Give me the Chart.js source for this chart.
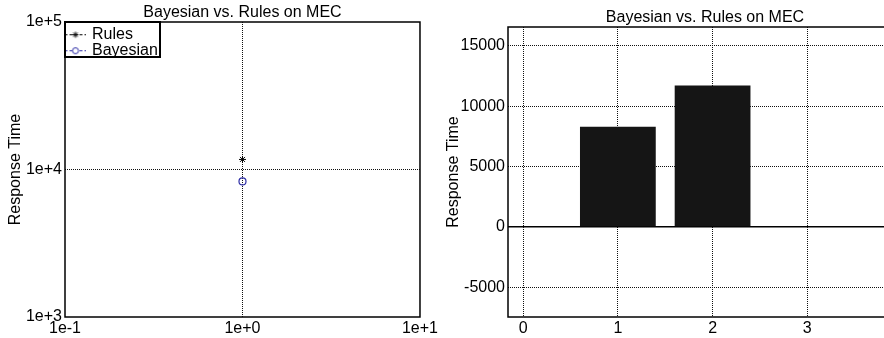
<!DOCTYPE html>
<html>
<head>
<meta charset="utf-8">
<script src="https://cdn.jsdelivr.net/npm/chart.js@4.4.1/dist/chart.umd.min.js"></script>
<style>
  html, body { margin: 0; padding: 0; background: #fff; overflow: hidden; }
  #wrap { position: relative; width: 884px; height: 338px; overflow: hidden; }
  canvas { position: absolute; top: 0; }
  #left { left: 0; }
  #right { left: 440px; }
</style>
</head>
<body>
<div id="wrap">
  <canvas id="left" width="440" height="338"></canvas>
  <canvas id="right" width="462" height="338"></canvas>
</div>
<script>
const chartTitle = 'Bayesian vs. Rules on MEC';
const yTitle = 'Response Time';

// left: log-log plot
const seriesNames = ['Rules', 'Bayesian'];
const rulesX = [1];
const rulesY = [11700];
const bayesX = [1];
const bayesY = [8300];
const logXTicks = [0.1, 1, 10];
const logYTicks = [1000, 10000, 100000];

// right: bars
const barX = [1, 2];
const barY = [8300, 11700];
const barXTicks = [0, 1, 2, 3];
const barYTicks = [-5000, 0, 5000, 10000, 15000];

Chart.defaults.font.family = '"Liberation Sans", Arial, Helvetica, sans-serif';
Chart.defaults.font.size = 16;
Chart.defaults.color = '#000';

const DOTS = [1, 1];
const GRID = '#111';

// box round the plot area, and round the legend
const frame = {
  id: 'frame',
  afterLayout(chart) {
    // the chartArea legend comes back with top = 0, pin it to the plot corner
    const lg = chart.legend;
    if (!lg || !lg.options.display) return;
    const dy = chart.chartArea.top - lg.top;
    lg.top += dy;
    lg.bottom += dy;
    (lg.legendHitBoxes || []).forEach(h => { h.top += dy; });
  },
  afterDraw(chart) {
    const {ctx, chartArea: a} = chart;
    ctx.save();
    ctx.setLineDash([]);
    ctx.strokeStyle = '#000';
    ctx.lineWidth = 1.5;
    ctx.strokeRect(a.left, a.top, a.right - a.left, a.bottom - a.top);
    const lg = chart.legend;
    if (lg && lg.options.display) {
      ctx.lineWidth = 2;
      ctx.strokeRect(lg.left, lg.top, lg.width, lg.height);
    }
    ctx.restore();
  }
};

function legendIcon(style, color) {
  const c = document.createElement('canvas');
  c.width = 22;
  c.height = 10;
  const g = c.getContext('2d');
  g.strokeStyle = color;
  g.lineWidth = 1;
  g.setLineDash([3, 2]);
  g.beginPath();
  g.moveTo(1, 5.5);
  g.lineTo(22, 5.5);
  g.stroke();
  g.setLineDash([]);
  g.fillStyle = '#fff';
  Chart.helpers.drawPoint(g, {pointStyle: style, radius: 3, borderWidth: 1, rotation: 0}, 12, 5.5);
  return c;
}

const hideEdges = c => (c.tick && (c.tick.value <= c.scale.min || c.tick.value >= c.scale.max)) ? 'rgba(0,0,0,0)' : GRID;
const expLabel = v => Number(v).toExponential();

new Chart(document.getElementById('left'), {
  type: 'scatter',
  data: {
    datasets: [
      {
        label: seriesNames[0],
        data: rulesX.map((x, i) => ({x, y: rulesY[i]})),
        pointStyle: 'star',
        pointRadius: 3.5,
        pointBorderWidth: 1,
        pointBorderColor: '#000',
        pointBackgroundColor: '#000',
        icon: legendIcon('star', '#000')
      },
      {
        label: seriesNames[1],
        data: bayesX.map((x, i) => ({x, y: bayesY[i]})),
        pointStyle: 'circle',
        pointRadius: 3.5,
        pointBorderWidth: 1.2,
        pointBorderColor: '#2e2ea6',
        pointBackgroundColor: 'rgba(255,255,255,0)',
        icon: legendIcon('circle', '#2e2ea6')
      }
    ]
  },
  options: {
    responsive: false,
    animation: false,
    layout: {padding: {left: 0, right: 16, top: 0, bottom: 0}},
    plugins: {
      title: {
        display: true,
        text: chartTitle,
        fullSize: false,
        color: '#000',
        font: {size: 16, weight: 'normal', lineHeight: 1},
        padding: {top: 4.8, bottom: 1.2}
      },
      legend: {
        position: 'chartArea',
        align: 'start',
        maxWidth: 95,
        maxHeight: 35,
        title: {display: true, text: '', font: {size: 3, lineHeight: 1}, padding: {top: 1.2, bottom: 0}},
        labels: {
          usePointStyle: true,
          pointStyleWidth: 19,
          padding: 0,
          color: '#000',
          font: {size: 16},
          generateLabels: chart => chart.data.datasets.map((ds, i) => ({
            text: ds.label,
            pointStyle: ds.icon,
            datasetIndex: i,
            fontColor: '#000',
            fillStyle: '#fff',
            strokeStyle: '#000',
            lineWidth: 0,
            hidden: false
          }))
        }
      },
      tooltip: {enabled: false}
    },
    scales: {
      x: {
        type: 'logarithmic',
        min: 0.1,
        max: 10,
        afterBuildTicks: s => { s.ticks = logXTicks.map(v => ({value: v})); },
        afterFit: s => { s.height = 21; },
        ticks: {callback: expLabel, autoSkip: false, maxRotation: 0, padding: 2},
        grid: {drawTicks: false, color: hideEdges, lineWidth: 1},
        border: {display: false, dash: DOTS}
      },
      y: {
        type: 'logarithmic',
        min: 1000,
        max: 100000,
        afterBuildTicks: s => { s.ticks = logYTicks.map(v => ({value: v})); },
        afterFit: s => { s.width = 65; },
        ticks: {callback: expLabel, autoSkip: false, padding: 3},
        grid: {drawTicks: false, color: hideEdges, lineWidth: 1},
        border: {display: false, dash: DOTS},
        title: {display: true, text: yTitle, font: {size: 16}, padding: {top: 6, bottom: 0}}
      }
    }
  },
  plugins: [frame]
});

new Chart(document.getElementById('right'), {
  type: 'bar',
  data: {
    datasets: [{
      label: yTitle,
      data: barX.map((x, i) => ({x, y: barY[i]})),
      backgroundColor: '#151515',
      borderWidth: 0,
      barPercentage: 0.8,
      categoryPercentage: 1
    }]
  },
  options: {
    responsive: false,
    animation: false,
    layout: {padding: 0},
    plugins: {
      title: {
        display: true,
        text: chartTitle,
        fullSize: false,
        color: '#000',
        font: {size: 16, weight: 'normal', lineHeight: 1},
        padding: {top: 10, bottom: 1}
      },
      legend: {display: false},
      tooltip: {enabled: false}
    },
    scales: {
      x: {
        type: 'linear',
        min: -0.16,
        max: 4,
        offset: false,
        afterBuildTicks: s => { s.ticks = barXTicks.map(v => ({value: v})); },
        afterFit: s => { s.height = 21; },
        ticks: {callback: v => String(v), autoSkip: false, maxRotation: 0, padding: 2},
        grid: {offset: false, drawTicks: false, color: GRID, lineWidth: 1},
        border: {display: false, dash: DOTS}
      },
      y: {
        min: -7450,
        max: 16550,
        afterBuildTicks: s => { s.ticks = barYTicks.map(v => ({value: v})); },
        afterFit: s => { s.width = 68; },
        ticks: {callback: v => String(v), autoSkip: false, padding: 3},
        grid: {
          drawTicks: false,
          color: c => (c.tick && c.tick.value === 0) ? '#000' : GRID,
          lineWidth: c => (c.tick && c.tick.value === 0) ? 1.5 : 1
        },
        border: {display: false, dash: c => (c.tick && c.tick.value === 0) ? [] : DOTS},
        title: {display: true, text: yTitle, font: {size: 16}, padding: {top: 4.2, bottom: 0}}
      }
    }
  },
  plugins: [frame]
});
</script>
</body>
</html>
